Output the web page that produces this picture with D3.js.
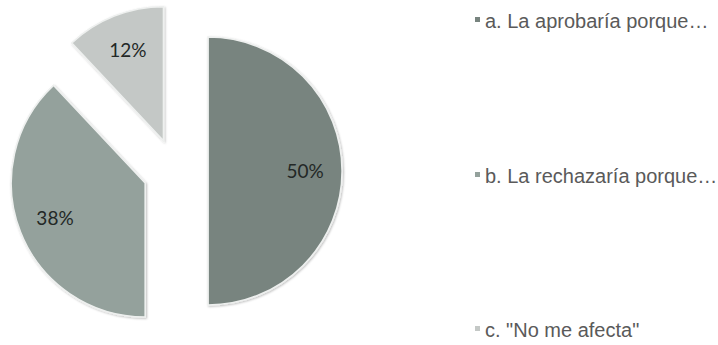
<!DOCTYPE html>
<html>
<head>
<meta charset="utf-8">
<script src="https://cdn.jsdelivr.net/npm/d3@7"></script>
<style>
  html, body { margin: 0; padding: 0; background: #fff; }
  svg { display: block; }
</style>
</head>
<body>
<svg id="chart" width="718" height="345"></svg>
<script>
const categories = ['a. La aprobaría porque…', 'b. La rechazaría porque…', 'c. "No me afecta"'];
const values = [50, 38, 12];
const pctLabels = ['50%', '38%', '12%'];
const colors = ['#78847f', '#94a19c', '#c4c8c6'];
const legendRows = [28, 183, 337];

const cx = 175.5, cy = 171;
const radius = 134;
const explode = 32.6;
const labelRadius = 97;

const svg = d3.select('#chart');

const defs = svg.append('defs');
const shadow = defs.append('filter').attr('id', 'shadow')
    .attr('x', '-10%').attr('y', '-10%').attr('width', '120%').attr('height', '120%');
shadow.append('feDropShadow')
    .attr('dx', 1).attr('dy', 1).attr('stdDeviation', 1.2)
    .attr('flood-color', '#000').attr('flood-opacity', 0.25);

const pie = d3.pie().sort(null).value(d => d);
const arcs = pie(values);

const arc = d3.arc().innerRadius(0).outerRadius(radius);

const g = svg.append('g').attr('transform', `translate(${cx},${cy})`);

arcs.forEach((a, i) => {
    const mid = (a.startAngle + a.endAngle) / 2;
    const dx = Math.sin(mid) * explode;
    const dy = -Math.cos(mid) * explode;
    const sg = g.append('g').attr('transform', `translate(${dx},${dy})`);

    sg.append('path')
        .attr('d', arc(a))
        .attr('fill', colors[i])
        .attr('stroke', '#eef0ef')
        .attr('stroke-width', 1.6)
        .attr('filter', 'url(#shadow)');

    sg.append('text')
        .attr('x', Math.sin(mid) * labelRadius)
        .attr('y', -Math.cos(mid) * labelRadius)
        .attr('dy', '0.35em')
        .attr('text-anchor', 'middle')
        .attr('font-family', 'Lato, "Open Sans", sans-serif')
        .attr('font-size', 19)
        .attr('fill', '#232826')
        .text(pctLabels[i]);
});

const legend = svg.append('g');
categories.forEach((c, i) => {
    const row = legend.append('g').attr('transform', `translate(475,${legendRows[i]})`);
    row.append('rect')
        .attr('x', 0).attr('y', -11)
        .attr('width', 5).attr('height', 5)
        .attr('fill', colors[i]);
    row.append('text')
        .attr('x', 10).attr('y', 0)
        .attr('font-family', '"Liberation Sans", Arial, sans-serif')
        .attr('font-size', 20)
        .attr('fill', '#5a5a5a')
        .text(c);
});
</script>
</body>
</html>
